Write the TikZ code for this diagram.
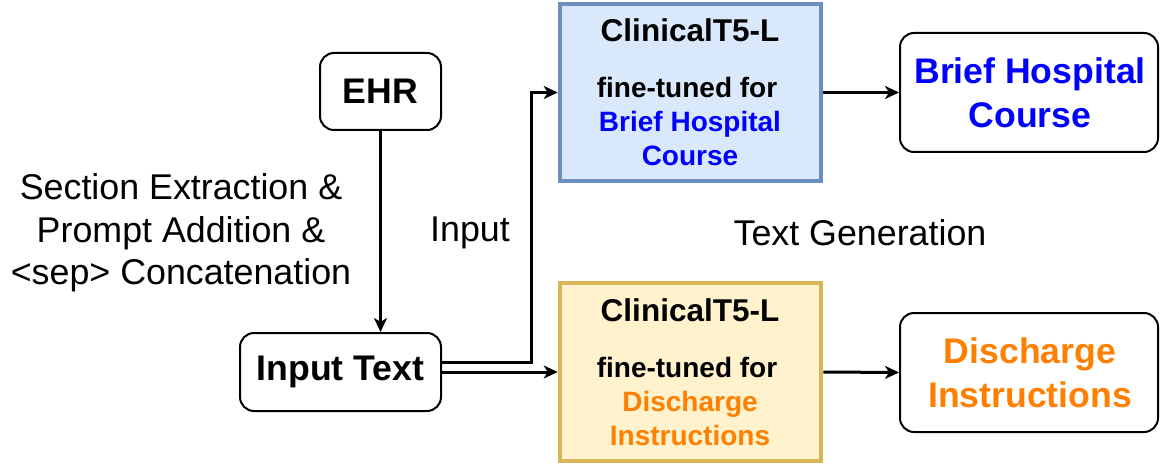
\documentclass[tikz,border=0pt]{standalone}
\usepackage{fontspec}
\setmainfont{Liberation Sans}
\usetikzlibrary{arrows.meta,positioning}
\definecolor{bluefill}{HTML}{DAE8FC}
\definecolor{blueline}{HTML}{6C8EBF}
\definecolor{yelfill}{HTML}{FFF2CC}
\definecolor{yelline}{HTML}{D6B656}
\definecolor{txtblue}{HTML}{0000FF}
\definecolor{txtorange}{HTML}{FF8000}
\tikzset{
  rbox/.style={draw=black, line width=2pt, rounded corners=14pt, fill=white, inner sep=0pt},
  modelbox/.style={line width=4.5pt, inner sep=0pt},
  arr/.style={line width=3pt, -{Stealth[length=14pt,width=13pt,inset=4pt]}},
  bigb/.style={font=\bfseries\fontsize{35.6}{44}\selectfont, align=center},
  small/.style={font=\bfseries\fontsize{28}{34}\selectfont, align=center, inner sep=0pt},
  plain/.style={font=\fontsize{35.8}{42.5}\selectfont, align=center},
}
\begin{document}
\begin{tikzpicture}[x=1pt,y=-1pt]
\useasboundingbox (0,0) rectangle (1161,465);
% boxes
\node[rbox, minimum width=121pt, minimum height=77pt, bigb] (ehr) at (380.5,91.5) {EHR};
\node[rbox, minimum width=201pt, minimum height=78pt, bigb] (inp) at (340.5,372) {Input Text};
\node[modelbox, draw=blueline, fill=bluefill, minimum width=261pt, minimum height=177pt] (blue) at (690.5,92.5) {};
\node[modelbox, draw=yelline, fill=yelfill, minimum width=261pt, minimum height=178pt] (yel) at (690.5,372) {};
\node[rbox, minimum width=258pt, minimum height=119pt] (bhc) at (1029,92.5) {};
\node[rbox, minimum width=258pt, minimum height=119pt] (di) at (1029,372.5) {};
% texts inside model boxes
\node[small, font=\bfseries\fontsize{31.5}{36}\selectfont] (m1) at (690,30) {ClinicalT5-L};
\node[small] (f1) at (687,87) {fine-tuned for};
\node[small, text=txtblue] (b1) at (690,138) {Brief Hospital\\Course};
\node[small, font=\bfseries\fontsize{31.5}{36}\selectfont] (m2) at (690,310) {ClinicalT5-L};
\node[small] (f2) at (687,367) {fine-tuned for};
\node[small, text=txtorange] (d1) at (690,418) {Discharge\\Instructions};
% output texts
\node[bigb, text=txtblue] (bt) at (1030,93) {Brief Hospital\\Course};
\node[bigb, text=txtorange] (dt) at (1030,373) {Discharge\\Instructions};
% free labels
\node[plain] (sec) at (181,233) {Section Extraction \&\\Prompt Addition \&\\<sep> Concatenation};
\node[plain] (inl) at (470,233) {Input};
\node[plain] (tg) at (860,233) {Text Generation};
% connectors
\draw[arr] (ehr.south) -- (ehr.south |- inp.north);
\draw[arr] ([yshift=10pt]inp.east) -- ++(89,0) |- (blue.west);
\draw[arr] (inp.east) -- (yel.west);
\draw[arr] (blue.east) -- (bhc.west);
\draw[arr] (yel.east) -- (di.west);
\end{tikzpicture}
\end{document}
